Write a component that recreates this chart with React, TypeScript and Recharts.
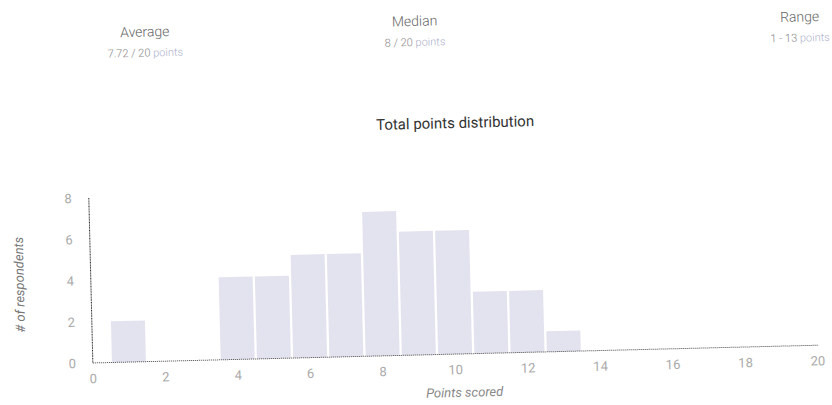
import { BarChart, Bar, XAxis, YAxis } from "recharts";

// points scored -> number of respondents
const pointsScored = [0, 1, 2, 3, 4, 5, 6, 7, 8, 9, 10, 11, 12, 13, 14, 15, 16, 17, 18, 19, 20];
const respondents = [0, 2, 0, 0, 4, 4, 5, 5, 7, 6, 6, 3, 3, 1, 0, 0, 0, 0, 0, 0, 0];
const xTicks = [0, 2, 4, 6, 8, 10, 12, 14, 16, 18, 20];
const yTicks = [0, 2, 4, 6, 8];

const stats = [
  { title: "Average", value: "7.72 / 20", x: 149, y: 25 },
  { title: "Median", value: "8 / 20", x: 419, y: 21 },
  { title: "Range", value: "1 - 13", x: 804, y: 26 },
];

const data = pointsScored.map((p, i) => ({ points: p, count: respondents[i] }));

const font = "Roboto, 'Noto Sans', sans-serif";

export default function App() {
  return (
    <div
      style={{
        position: "absolute",
        left: 0,
        top: 0,
        width: 832,
        height: 405,
        background: "#fff",
        fontFamily: font,
        overflow: "hidden",
      }}
    >
      <div
        style={{
          position: "absolute",
          left: 0,
          top: 0,
          width: 832,
          height: 405,
          transform: "rotate(-1.4deg)",
          transformOrigin: "416px 202px",
        }}
      >
        {stats.map((s) => (
          <div
            key={s.title}
            style={{
              position: "absolute",
              left: s.x - 80,
              top: s.y - 9,
              width: 160,
              textAlign: "center",
            }}
          >
            <div style={{ fontSize: 14, color: "#666", lineHeight: "18px", fontWeight: 300 }}>{s.title}</div>
            <div style={{ fontSize: 11, color: "#888", lineHeight: "14px", marginTop: 6, fontWeight: 300 }}>
              {s.value} <span style={{ color: "#aeb1cc" }}>points</span>
            </div>
          </div>
        ))}
        <div
          style={{
            position: "absolute",
            left: 257,
            top: 114,
            width: 400,
            textAlign: "center",
            fontSize: 15,
            color: "#333",
            lineHeight: "20px",
          }}
        >
          Total points distribution
        </div>
        <div
          style={{
            position: "absolute",
            left: 18 - 80,
            top: 275 - 8,
            width: 160,
            textAlign: "center",
            fontSize: 13,
            fontStyle: "italic",
            color: "#777",
            lineHeight: "16px",
            transform: "rotate(-90deg)",
          }}
        >
          # of respondents
        </div>
        <div
          style={{
            position: "absolute",
            left: 460 - 80,
            top: 394 - 8,
            width: 160,
            textAlign: "center",
            fontSize: 13,
            fontStyle: "italic",
            color: "#888",
            lineHeight: "16px",
          }}
        >
          Points scored
        </div>
        <BarChart
          width={832}
          height={405}
          data={data}
          margin={{ top: 190, right: 18, bottom: 20, left: 29 }}
          style={{ position: "absolute", left: 0, top: 0 }}
        >
          <XAxis
            dataKey="points"
            type="number"
            domain={[0, 20]}
            ticks={xTicks}
            interval={0}
            height={30}
            tickLine={false}
            tickSize={0}
            tickMargin={11}
            axisLine={{ stroke: "#444", strokeDasharray: "1 1" }}
            tick={{ fill: "#aaa", fontSize: 13, fontFamily: font }}
          />
          <YAxis
            domain={[0, 8]}
            ticks={yTicks}
            interval={0}
            width={60}
            tickLine={false}
            tickSize={0}
            tickMargin={17}
            axisLine={{ stroke: "#222", strokeDasharray: "1 0.6" }}
            tick={{ fill: "#aaa", fontSize: 13, fontFamily: font }}
          />
          <Bar dataKey="count" fill="#e3e3ef" barSize={34} isAnimationActive={false} />
        </BarChart>
      </div>
    </div>
  );
}
